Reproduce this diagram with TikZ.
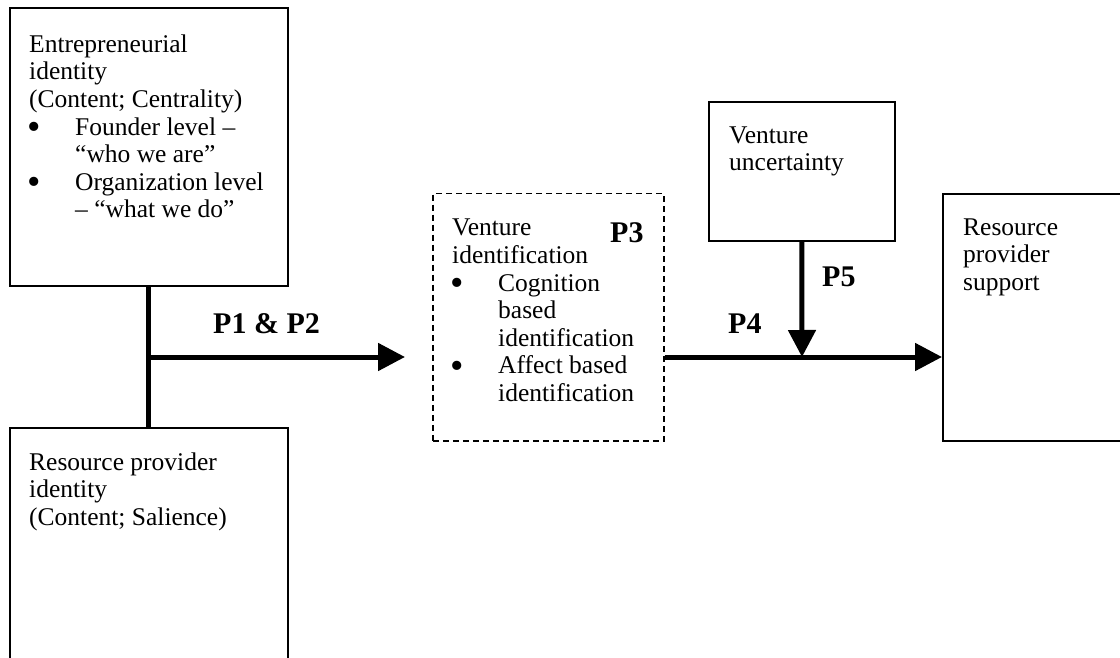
\documentclass[tikz,border=0pt]{standalone}
\usepackage{fontspec}
\setmainfont{Liberation Serif}
\usetikzlibrary{arrows.meta}
\newcommand{\blt}{\makebox[46pt][l]{\hspace*{-2pt}\raisebox{-4.5pt}{\scalebox{1.5}{\textbullet}}}}
\newcommand{\indt}{\hspace*{46pt}}

\begin{document}
\begin{tikzpicture}[x=1pt,y=-1pt,
  box/.style={draw,line width=1.8pt,inner sep=0pt,anchor=north west},
  txt/.style={inner sep=0pt,align=left,anchor=north west,font=\fontsize{25.5}{27.6}\selectfont},
  lab/.style={inner sep=0pt,anchor=base west,font=\fontsize{30}{34}\selectfont\bfseries},
  conn/.style={line width=5pt},
  arr/.style={line width=5pt,-{Triangle[length=27pt,width=27pt]}}]
\clip (0,0) rectangle (1120,658);

\node[box,minimum width=278pt,minimum height=278pt] (entid) at (9,7) {};
\node[box,minimum width=278pt,minimum height=260pt] (rpid) at (9,427) {};
\node[box,dashed,line width=1.5pt,dash pattern=on 6pt off 4pt,minimum width=231pt,minimum height=247pt] (venid) at (432,193) {};
\node[box,minimum width=186pt,minimum height=139pt] (unc) at (708,101) {};
\node[box,minimum width=220pt,minimum height=247pt] (supp) at (942,193) {};

\node[txt] (entidtxt) at (29,34.5) {Entrepreneurial\\identity\\(Content; Centrality)\\\blt Founder level --\\\indt``who we are''\\\blt Organization level\\\indt-- ``what we do''};
\node[txt] (rpidtxt) at (29,452.5) {Resource provider\\identity\\(Content; Salience)};
\node[txt] (venidtxt) at (452,219) {Venture\\identification\\\blt Cognition\\\indt based\\\indt identification\\\blt Affect based\\\indt identification};
\node[txt] (unctxt) at (729,126.5) {Venture\\uncertainty};
\node[txt] (supptxt) at (963,218.5) {Resource\\provider\\support};

\node[lab] (p12) at (213,333) {P1 \& P2};
\node[lab] (p3) at (610,243) {P3};
\node[lab] (p4) at (728,333) {P4};
\node[lab] (p5) at (822,286) {P5};

\coordinate (split) at (148,357);
\coordinate (p12end) at (405,357);
\coordinate (mod) at (802,357);

\draw[conn] (entid.south) -- (rpid.north);
\draw[arr] (split) -- (p12end);
\draw[arr] (venid.east |- mod) -- (supp.west |- mod);
\draw[arr] (unc.south) -- (mod);
\end{tikzpicture}
\end{document}
